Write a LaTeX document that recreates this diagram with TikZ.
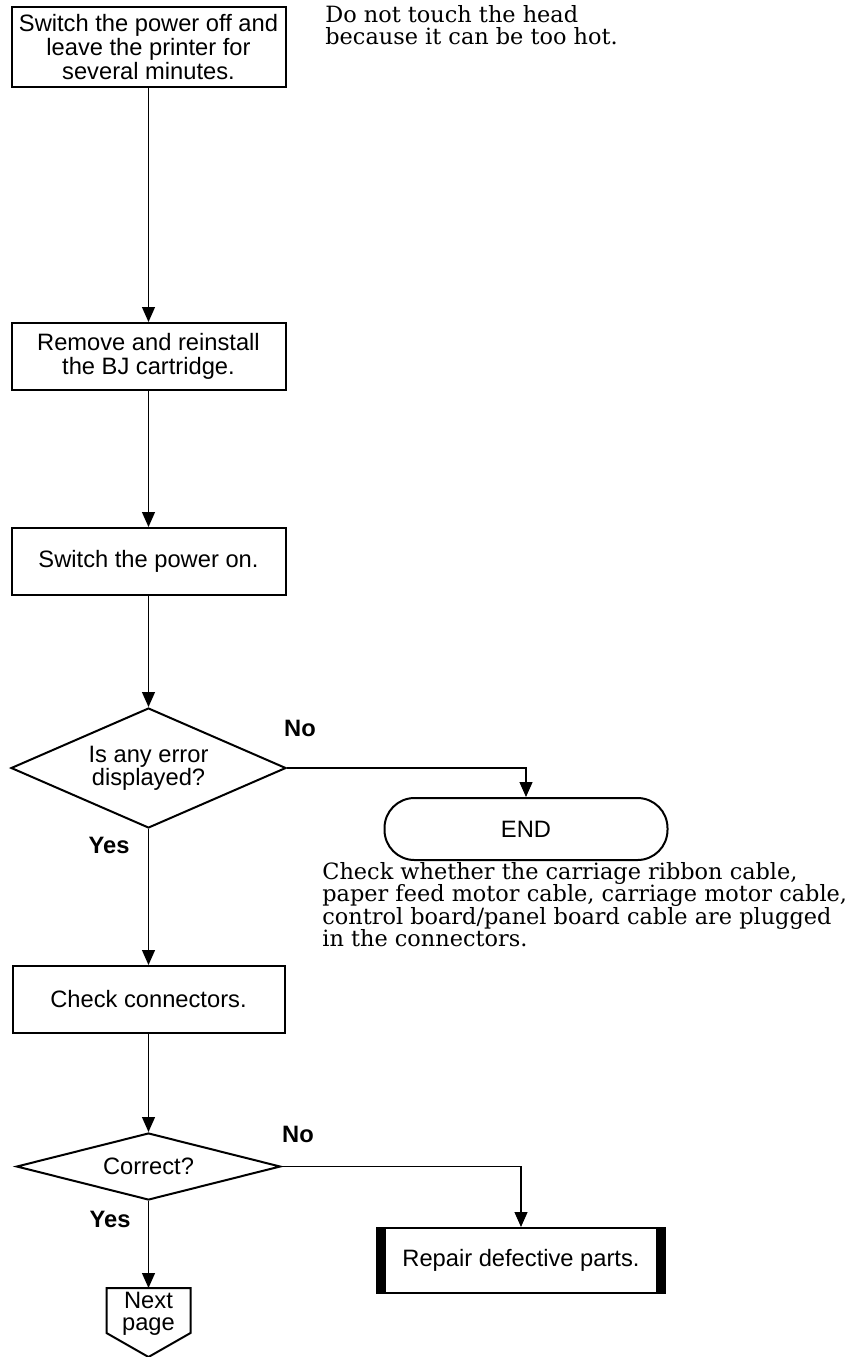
\documentclass[tikz,border=0pt]{standalone}
\usepackage{fontspec}
\setmainfont{Liberation Sans}
\newfontfamily\notefont{DejaVu Serif}
\usetikzlibrary{shapes.geometric,arrows.meta}

\tikzset{
	box/.style={draw, line width=1pt, align=center, inner sep=2pt, font=\fontsize{11.85}{11.85}\selectfont},
	decision/.style={diamond, draw, line width=1pt, align=center, inner sep=0pt, font=\fontsize{11.85}{11.7}\selectfont},
	answer/.style={inner sep=0pt, font=\fontsize{11.85}{12}\selectfont\bfseries},
	remark/.style={align=left, inner sep=0pt, font=\notefont\fontsize{11.2}{11.15}\selectfont},
	flow/.style={line width=0.6pt, -{Triangle[length=7.5pt,width=6.5pt]}},
}

\begin{document}
\begin{tikzpicture}[x=0.5pt, y=-0.5pt]
	\useasboundingbox (0,0) rectangle (858,1357);

	% main column
	\node[box, minimum width=137pt, minimum height=40pt] (off) at (148.5,47) {Switch the power off and\\leave the printer for\\several minutes.};
	\node[box, minimum width=137pt, minimum height=33.5pt] (reinst) at (148.5,356.5) {Remove and reinstall\\the BJ cartridge.};
	\node[box, minimum width=137pt, minimum height=33.5pt] (poweron) at (148.5,561.5) {Switch the power on.};
	\node[decision, aspect=2.3, minimum width=137.5pt, minimum height=60pt] (errq) at (148.5,768) {Is any error\\displayed?};
	\node[box, minimum width=136pt, minimum height=33.5pt] (chk) at (148.5,999.5) {Check connectors.};
	\node[decision, aspect=3.9, minimum width=132pt, minimum height=33.5pt] (okq) at (148.5,1166.5) {Correct?};

	% off-page connector
	\coordinate (pg) at (148.5,1288);
	\draw[line width=1pt] (pg) +(-42,0) -- +(42,0) -- +(42,45) -- +(0,69) -- +(-42,45) -- cycle;
	\node[align=center, inner sep=0pt, font=\fontsize{11.85}{11.2}\selectfont] (next) at (148.5,1314) {Next\\page};

	% right column
	\node[box, rounded corners=15pt, minimum width=141.5pt, minimum height=31pt] (finish) at (526,829) {END};
	\node[box, minimum width=144pt, minimum height=32.5pt] (repair) at (521,1260.5) {Repair defective parts.};
	\fill (repair.north west) rectangle ([xshift=5pt]repair.south west);
	\fill ([xshift=-5pt]repair.north east) rectangle (repair.south east);

	\node[remark, anchor=north west] (hot) at (325,5) {Do not touch the head\\because it can be too hot.};
	\node[remark, anchor=north west] (cables) at (322,862) {Check whether the carriage ribbon cable,\\paper feed motor cable, carriage motor cable,\\control board/panel board cable are plugged\\in the connectors.};

	\draw[flow] (off) -- (reinst);
	\draw[flow] (reinst) -- (poweron);
	\draw[flow] (poweron) -- (errq);
	\draw[flow] (errq.east) -| (finish.north);
	\draw[flow] (errq) -- (chk);
	\draw[flow] (chk) -- (okq);
	\draw[flow] (okq.east) -| (repair.north);
	\draw[flow] (okq) -- (pg);

	\node[answer] (no1) at (300,728) {No};
	\node[answer] (yes1) at (109,845) {Yes};
	\node[answer] (no2) at (298,1134) {No};
	\node[answer] (yes2) at (110,1219) {Yes};

\end{tikzpicture}
\end{document}
